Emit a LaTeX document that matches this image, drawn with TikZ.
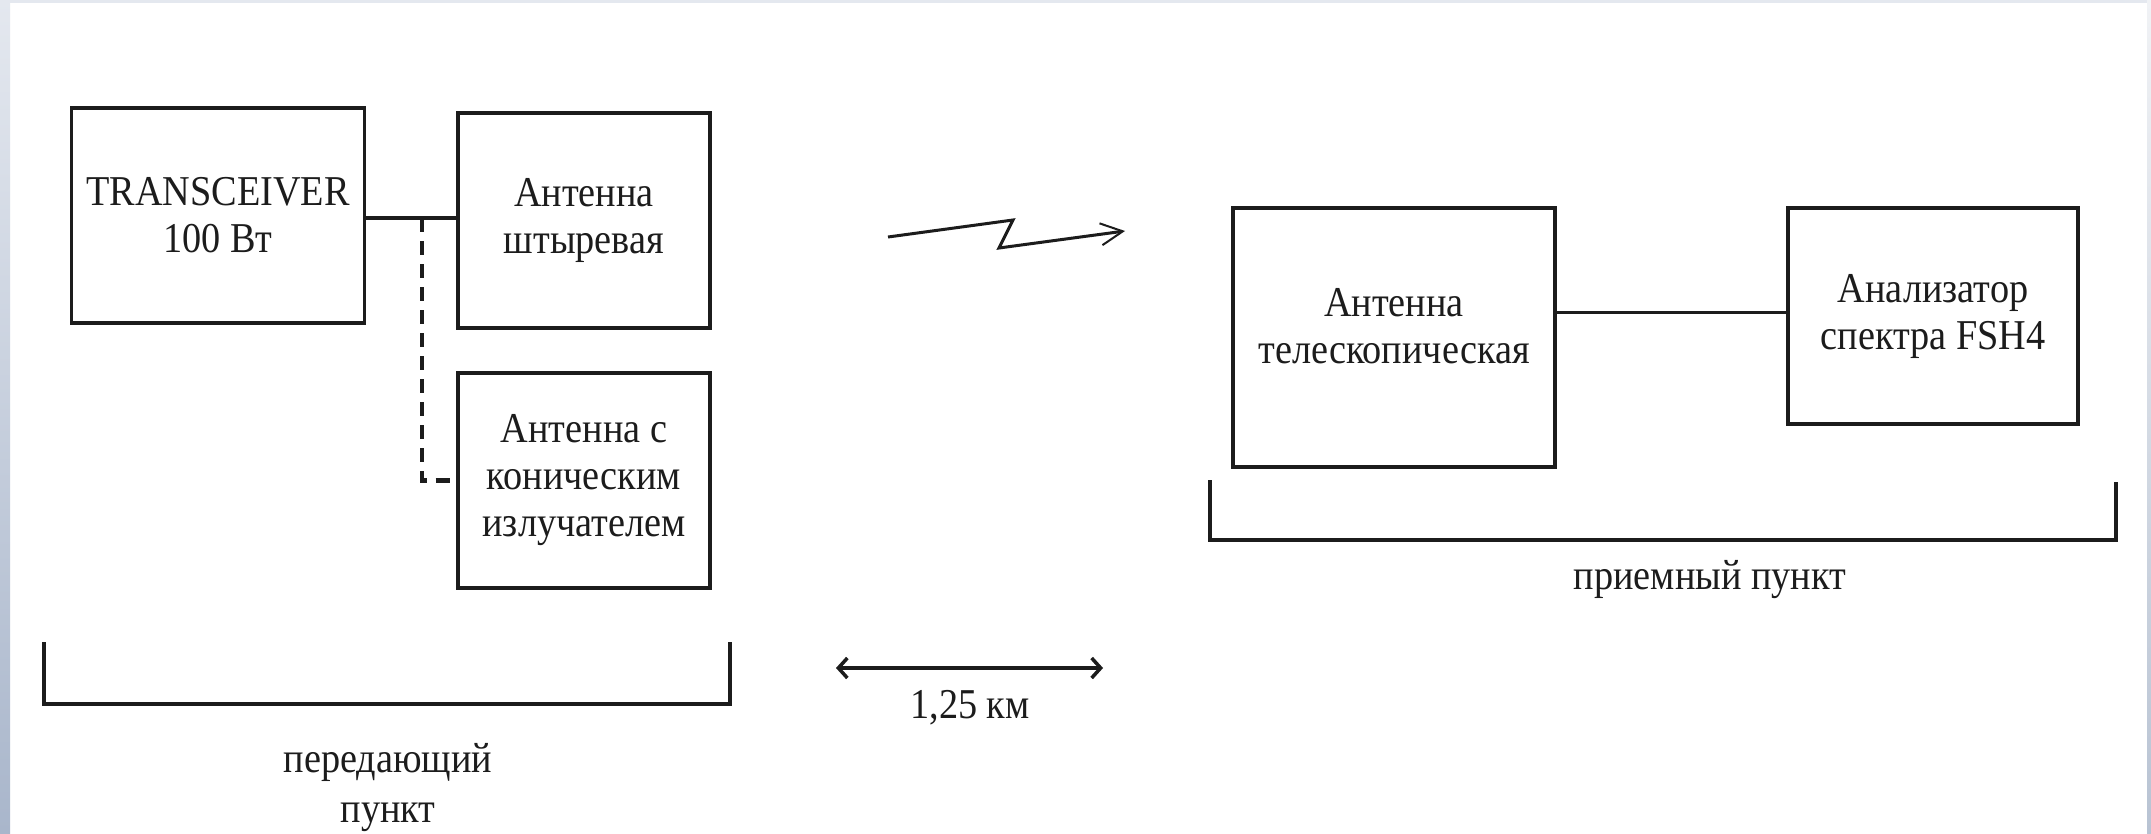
\documentclass[tikz,border=0pt]{standalone}
\usepackage{fontspec}
\setmainfont{Liberation Serif}[FakeStretch=0.9]
\usetikzlibrary{arrows.meta}
\definecolor{ink}{HTML}{1C1C1C}
\definecolor{edgetop}{HTML}{E4E8EF}
\definecolor{edgebot}{HTML}{A9B6CB}
\definecolor{redgetop}{HTML}{F0F2F5}
\definecolor{redgebot}{HTML}{B8C3D3}
\tikzset{
  blockbox/.style={draw=ink, line width=3.5pt, fill=white, inner sep=0pt, align=center,
    text=ink, font=\fontsize{42.5}{47}\selectfont},
  lbltext/.style={inner sep=0pt, align=center, text=ink, font=\fontsize{42.5}{50}\selectfont},
  wire/.style={draw=ink, line width=4.5pt},
  thinwire/.style={draw=ink, line width=3pt},
  dashwire/.style={draw=ink, line width=4.5pt, dash pattern=on 14pt off 9pt},
  bracketline/.style={draw=ink, line width=3.5pt, line join=miter},
}
\begin{document}
\begin{tikzpicture}[x=1pt, y=-1pt]
  % background and frame strips
  \useasboundingbox (0,0) rectangle (2151,833);
  \fill[white] (0,0) rectangle (2151,833);
  \shade[top color=edgetop, bottom color=edgebot] (0,0) rectangle (10,833);
  \fill[edgetop] (0,0) rectangle (2151,3);
  \shade[top color=redgetop, bottom color=redgebot] (2147,0) rectangle (2151,833);

  % transmitting side
  \node[blockbox, minimum width=293pt, minimum height=215pt] (trans) at (218,215.5) {TRANSCEIVER\\100 Вт};
  \node[blockbox, minimum width=252pt, minimum height=215pt] (ant1) at (584,220.5) {Антенна\\штыревая};
  \node[blockbox, minimum width=252pt, minimum height=215pt] (ant2) at (584,480.5) {Антенна с\\коническим\\излучателем};

  \coordinate (junc) at (422,218);
  \draw[wire] (trans.east |- junc) -- (ant1.west |- junc);
  \draw[dashwire] (junc) |- (ant2.west);

  % radio link
  \coordinate (z0) at (888,237);
  \coordinate (z1) at (1013,220);
  \coordinate (z2) at (999,248);
  \coordinate (z3) at (1125,231);
  \draw[draw=ink, line width=3pt, line join=miter, -{Straight Barb[length=22pt,width=22pt,line width=2pt]}]
    (z0) -- (z1) -- (z2) -- (z3);

  % receiving side
  \node[blockbox, minimum width=322pt, minimum height=259pt] (tele) at (1394,337.5) {};
  \node[lbltext, font=\fontsize{42.5}{47}\selectfont] (teletxt) at (1394,326) {Антенна\\телескопическая};
  \node[blockbox, minimum width=290pt, minimum height=216pt] (anal) at (1933,316) {Анализатор\\спектра FSH4};
  \draw[thinwire] (tele.east |- 0,312) -- (anal.west |- 0,312);

  % brackets
  \coordinate (lb1) at (44,642);
  \coordinate (lb2) at (730,642);
  \draw[bracketline] (lb1) -- (lb1 |- 0,704) -- (lb2 |- 0,704) -- (lb2);
  \node[lbltext] (txlbl) at (388,788) {передающий\\пункт};

  \coordinate (rb1) at (1210,480);
  \coordinate (rb2) at (2116,482);
  \draw[bracketline] (rb1) -- (rb1 |- 0,540) -- (rb2 |- 0,540) -- (rb2);
  \node[lbltext] (rxlbl) at (1710,580) {приемный пункт};

  % distance
  \coordinate (d1) at (836,668);
  \coordinate (d2) at (1103,668);
  \draw[draw=ink, line width=3.5pt, {Straight Barb[length=9pt,width=20pt]}-{Straight Barb[length=9pt,width=20pt]}] (d1) -- (d2);
  \node[lbltext] (dist) at (970,708) {1,25 км};
\end{tikzpicture}
\end{document}
